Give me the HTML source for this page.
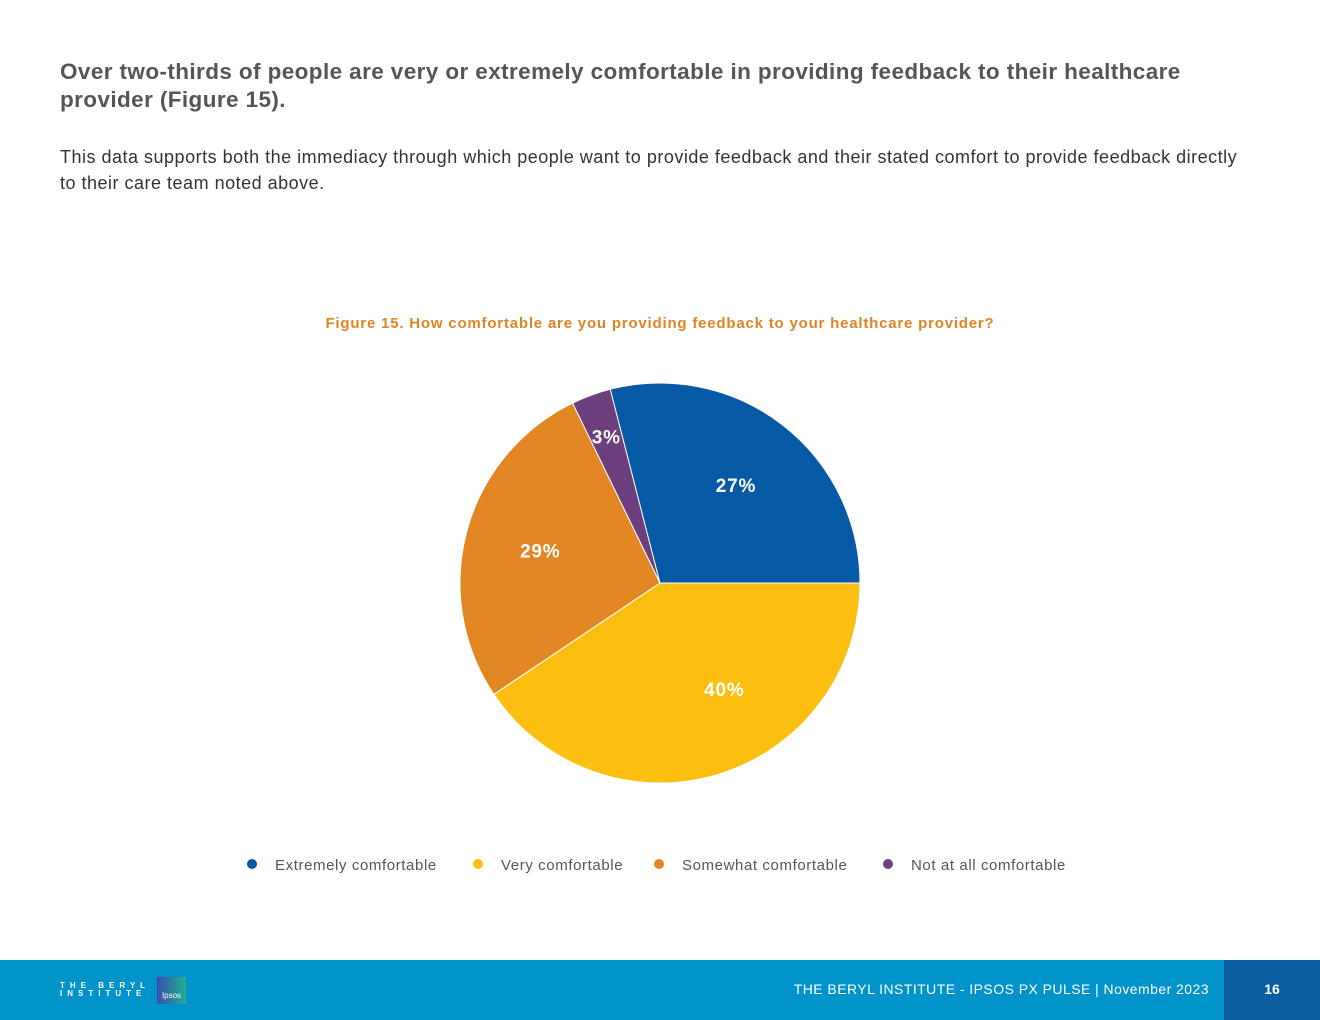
<!DOCTYPE html>
<html><head><meta charset="utf-8"><style>
body{margin:0;width:1320px;height:1020px;position:relative;background:#fff;font-family:"Liberation Sans",sans-serif;overflow:hidden}
h1{position:absolute;left:60px;top:58px;width:1200px;margin:0;font-size:22.5px;letter-spacing:0.4px;line-height:28px;color:#555;font-weight:bold}
p.body{position:absolute;left:60px;top:144px;width:1185px;margin:0;font-size:18px;letter-spacing:0.5px;line-height:26px;color:#333}
.ft{position:absolute;left:0;top:960px;width:1320px;height:60px;background:#0093c9}
</style></head><body>
<h1>Over two-thirds of people are very or extremely comfortable in providing feedback to their healthcare provider (Figure 15).</h1>
<p class="body">This data supports both the immediacy through which people want to provide feedback and their stated comfort to provide feedback directly to their care team noted above.</p>
<svg id="chart" width="1320" height="900" style="position:absolute;left:0;top:0">
<text x="660" y="328" text-anchor="middle" font-size="15" letter-spacing="0.8" font-weight="bold" fill="#e08323" font-family="Liberation Sans">Figure 15. How comfortable are you providing feedback to your healthcare provider?</text>
<g id="slices"></g><g id="labels"></g><g id="legend"></g>
</svg>
<div class="ft">
<div style="position:absolute;left:60px;top:22px;color:#fff;font-size:8px;font-weight:bold;letter-spacing:5px;line-height:8px">THE BERYL<br>INSTITUTE</div>
<div style="position:absolute;left:157px;top:17px;width:29px;height:27px;background:linear-gradient(90deg,#3a4fb0,#20b08f);color:#fff;font-size:8px;text-align:center;line-height:38px">Ipsos</div>
<div style="position:absolute;right:111px;top:21px;color:#fff;font-size:14px;letter-spacing:0.45px">THE BERYL INSTITUTE - IPSOS PX PULSE | November 2023</div>
<div style="position:absolute;right:0;top:0;width:96px;height:60px;background:#0b5fa0;color:#fff;font-size:14px;font-weight:bold;text-align:center;line-height:58px">16</div>
</div>
<script>
const categories=["Extremely comfortable","Very comfortable","Somewhat comfortable","Not at all comfortable"];
const values=[29,40.6,27.2,3.2];
const printedLabels=["27%","40%","29%","3%"];
const colors=["#0659a5","#fcbf10","#e28523","#6e3f7f"];
const NS="http://www.w3.org/2000/svg";
const cx=660,cy=583,R=200;
const total=values.reduce((a,b)=>a+b,0);
const order=[1,2,3,0];
let a0=0;
const sl=document.getElementById('slices'),lb=document.getElementById('labels');
order.forEach(i=>{
  const sweep=values[i]/total*2*Math.PI,a1=a0+sweep;
  const x0=cx+R*Math.cos(a0),y0=cy+R*Math.sin(a0),x1=cx+R*Math.cos(a1),y1=cy+R*Math.sin(a1);
  const p=document.createElementNS(NS,'path');
  p.setAttribute('d',`M${cx},${cy}L${x0},${y0}A${R},${R} 0 ${sweep>Math.PI?1:0} 1 ${x1},${y1}Z`);
  p.setAttribute('fill',colors[i]);p.setAttribute('stroke','#fff');p.setAttribute('stroke-width','1');
  
  
  sl.appendChild(p);
  const m=(a0+a1)/2-(values[i]>35?0.25:0),r=values[i]<5?0.78*R:0.62*R;
  const t=document.createElementNS(NS,'text');
  t.setAttribute('x',cx+r*Math.cos(m));t.setAttribute('y',cy+r*Math.sin(m)+7);
  t.setAttribute('text-anchor','middle');t.setAttribute('fill','#fff');t.setAttribute('font-size','19');t.setAttribute('font-weight','bold');t.setAttribute('letter-spacing','0.8');
  t.textContent=printedLabels[i];
  
  
  lb.appendChild(t);
  a0=a1;
});
const lg=document.getElementById('legend');
const lx=[252,478,659,888];
categories.forEach((c,i)=>{
  const g=document.createElementNS(NS,'g');
  
  
  const d=document.createElementNS(NS,'circle');
  d.setAttribute('cx',lx[i]);d.setAttribute('cy',864);d.setAttribute('r',5);d.setAttribute('fill',colors[i]);
  const t=document.createElementNS(NS,'text');
  t.setAttribute('x',lx[i]+23);t.setAttribute('y',870);t.setAttribute('font-size','15');t.setAttribute('letter-spacing','0.6');t.setAttribute('fill','#555');
  t.textContent=c;
  g.appendChild(d);g.appendChild(t);lg.appendChild(g);
});
</script>
</body></html>
